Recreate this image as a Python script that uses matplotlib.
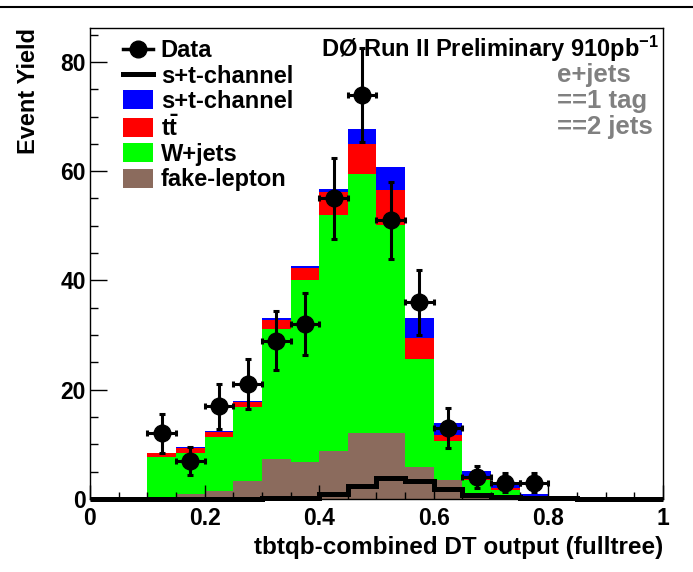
import matplotlib
matplotlib.use("Agg")
import matplotlib.pyplot as plt
from matplotlib.lines import Line2D
from matplotlib.patches import Patch
from matplotlib.ticker import MultipleLocator, FixedLocator, FixedFormatter

# Data

BIN_WIDTH = 0.05
BIN_LOW = [0.10, 0.15, 0.20, 0.25, 0.30, 0.35, 0.40, 0.45,
           0.50, 0.55, 0.60, 0.65, 0.70, 0.75, 0.80]

FAKE_LEPTON = [0.0, 0.9, 1.5, 3.3, 7.3, 6.8, 8.7, 12.1, 12.0, 5.9, 3.5, 0.9, 0.5, 0.2, 0.0]
W_JETS = [7.7, 7.5, 9.8, 13.6, 23.9, 33.2, 43.3, 47.4, 38.2, 19.7, 7.2, 2.6, 1.1, 0.2, 0.1]
TTBAR = [0.7, 1.0, 0.9, 0.9, 1.6, 2.3, 4.2, 5.5, 6.4, 3.8, 1.0, 0.4, 0.5, 0.2, 0.0]
SINGLE_TOP = [0.1, 0.1, 0.2, 0.2, 0.3, 0.4, 0.5, 2.8, 4.1, 3.8, 2.2, 1.2, 0.4, 0.4, 0.2]

# signal-only histogram drawn as a line over the full 0..1 range
SIGNAL_EDGES = [0.00, 0.05, 0.10, 0.15, 0.20, 0.25, 0.30, 0.35, 0.40, 0.45, 0.50,
                0.55, 0.60, 0.65, 0.70, 0.75, 0.80, 0.85, 0.90, 0.95, 1.00]
SIGNAL_LINE = [0, 0, 0, 0, 0, 0.05, 0.1, 0.25, 1.0, 2.4, 3.8, 3.3, 1.8, 0.7, 0.3, 0.2, 0.1, 0, 0, 0]

DATA_X = [0.125, 0.175, 0.225, 0.275, 0.325, 0.375, 0.425,
          0.475, 0.525, 0.575, 0.625, 0.675, 0.725, 0.775]
DATA_Y = [12, 7, 17, 21, 29, 32, 55, 74, 51, 36, 13, 4, 3, 3]
DATA_ERR = [3.5, 2.6, 4.1, 4.6, 5.4, 5.7, 7.4, 8.6, 7.1, 6.0, 3.6, 2.0, 1.7, 1.7]

X_TICKS = [0, 0.2, 0.4, 0.6, 0.8, 1.0]
X_TICK_LABELS = ["0", "0.2", "0.4", "0.6", "0.8", "1"]
Y_TICKS = [0, 20, 40, 60, 80]

BLUE = "#0000ff"
RED = "#ff0000"
GREEN = "#00ff00"
BROWN = "#8b6b5d"
GREY = "#808080"


def setup_style():
    plt.rcParams["font.family"] = ["Liberation Sans", "DejaVu Sans"]
    plt.rcParams["font.weight"] = "bold"
    plt.rcParams["mathtext.fontset"] = "custom"
    plt.rcParams["mathtext.rm"] = "Liberation Sans:bold"
    plt.rcParams["mathtext.bf"] = "Liberation Sans:bold"
    plt.rcParams["mathtext.it"] = "Liberation Sans:bold"


def draw_stack(ax):
    bottom = [0.0] * len(BIN_LOW)
    for values, color in [(FAKE_LEPTON, BROWN), (W_JETS, GREEN), (TTBAR, RED), (SINGLE_TOP, BLUE)]:
        ax.bar(BIN_LOW, values, width=BIN_WIDTH, bottom=bottom, align="edge",
               color=color, linewidth=0, zorder=1)
        bottom = [b + v for b, v in zip(bottom, values)]

    ax.stairs(SIGNAL_LINE, SIGNAL_EDGES, color="black", linewidth=3.6,
              zorder=3, clip_on=False)

    ax.errorbar(DATA_X, DATA_Y, yerr=DATA_ERR, xerr=BIN_WIDTH / 2, fmt="o",
                color="black", markersize=12, elinewidth=2.2, capsize=2.5,
                capthick=2.2, zorder=4)


def style_axes(ax):
    ax.set_xlim(0, 1)
    ax.set_ylim(0, 86.2)

    ax.xaxis.set_major_locator(FixedLocator(X_TICKS))
    ax.xaxis.set_major_formatter(FixedFormatter(X_TICK_LABELS))
    ax.xaxis.set_minor_locator(MultipleLocator(0.05))
    ax.yaxis.set_major_locator(FixedLocator(Y_TICKS))
    ax.yaxis.set_minor_locator(MultipleLocator(5))

    ax.tick_params(axis="x", which="major", direction="in", length=10, width=1,
                   labelsize=16.5, pad=6, top=False)
    ax.tick_params(axis="x", which="minor", direction="in", length=5, width=1, top=False)
    ax.tick_params(axis="y", which="major", direction="in", length=12, width=1,
                   labelsize=16.5, pad=3, right=False)
    ax.tick_params(axis="y", which="minor", direction="in", length=6, width=1, right=False)

    for spine in ax.spines.values():
        spine.set_linewidth(1)

    ax.set_xlabel("tbtqb-combined DT output (fulltree)", fontsize=17.5,
                  fontweight="bold", loc="right", labelpad=4)
    ax.set_ylabel("Event Yield", fontsize=17, fontweight="bold", loc="top")
    ax.yaxis.set_label_coords(-0.088, 1.0)


def add_legend_and_text(ax):
    handles = [
        Line2D([], [], color="black", marker="o", markersize=12, linewidth=2.5),
        Line2D([], [], color="black", linewidth=3.6),
        Patch(facecolor=BLUE, edgecolor="none"),
        Patch(facecolor=RED, edgecolor="none"),
        Patch(facecolor=GREEN, edgecolor="none"),
        Patch(facecolor=BROWN, edgecolor="none"),
    ]
    labels = ["Data", "s+t-channel", "s+t-channel", r"$\mathrm{t\bar{t}}$",
              "W+jets", "fake-lepton"]
    ax.legend(handles, labels, loc="upper left", bbox_to_anchor=(0.0576, 0.976),
              frameon=False, borderpad=0, borderaxespad=0, fontsize=17,
              handlelength=1.25, handleheight=0.85, handletextpad=0.35,
              labelspacing=0.1)

    ax.text(0.404, 0.955, r"DØ Run II Preliminary 910pb$^{-1}$", transform=ax.transAxes,
            fontsize=17, fontweight="bold", ha="left", va="center")
    for y, txt in [(0.900, "e+jets"), (0.845, "==1 tag"), (0.790, "==2 jets")]:
        ax.text(0.815, y, txt, transform=ax.transAxes, fontsize=18.5,
                fontweight="bold", color=GREY, ha="left", va="center")


def main():
    setup_style()
    fig = plt.figure(figsize=(6.93, 5.72), dpi=100)
    ax = fig.add_axes([90 / 693, 73 / 572, 573 / 693, 471 / 572])

    draw_stack(ax)
    style_axes(ax)
    add_legend_and_text(ax)

    # frame line across the top of the canvas
    fig.add_artist(Line2D([0, 0.998], [1 - 7 / 572, 1 - 7 / 572], color="black",
                          linewidth=1.5))

    fig.savefig("out.png", dpi=100)


if __name__ == "__main__":
    main()
